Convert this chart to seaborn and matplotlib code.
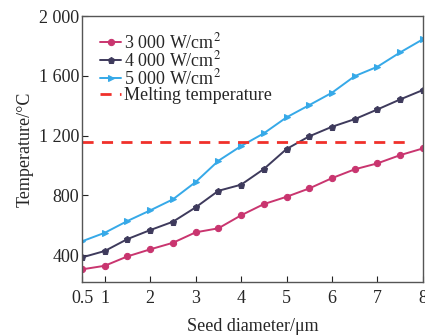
import matplotlib
matplotlib.use("Agg")
import matplotlib.pyplot as plt
import seaborn as sns
import pandas as pd

# seed diameter (um)
diameter = [0.5, 1, 1.5, 2, 2.5, 3, 3.5, 4, 4.5, 5, 5.5, 6, 6.5, 7, 7.5, 8]
t_3000 = [304, 328, 391, 438, 482, 552, 579, 666, 741, 790, 846, 915, 974, 1014, 1069, 1114]
t_4000 = [384, 427, 507, 567, 623, 719, 830, 871, 976, 1110, 1195, 1259, 1310, 1375, 1442, 1505]
t_5000 = [492, 549, 628, 699, 773, 889, 1031, 1130, 1215, 1322, 1404, 1487, 1598, 1661, 1757, 1845]
melting = 1160

labels = ["3 000 W/cm$^2$", "4 000 W/cm$^2$", "5 000 W/cm$^2$"]
colors = ["#C9356F", "#3E3A5C", "#36A9E8"]
markers = ["o", "p", ">"]

sns.set_style("ticks")
plt.rcParams["font.family"] = ["Liberation Serif", "DejaVu Serif"]
plt.rcParams["mathtext.fontset"] = "stix"

fig = plt.figure(figsize=(4.25, 3.36), dpi=100)
ax = fig.add_axes([0.193, 0.161, 0.802, 0.791])

for vals, lab, c, m in zip([t_3000, t_4000, t_5000], labels, colors, markers):
    sns.lineplot(x=diameter, y=vals, ax=ax, color=c, marker=m, markersize=4.5,
                 markeredgecolor=c, linewidth=1.4, label=lab)

ax.axhline(melting, color="#F0302A", linestyle=(0, (4, 3)), linewidth=2,
           label="Melting temperature", xmin=0.0, xmax=0.965)

ax.set_xlim(0.5, 8)
ax.set_ylim(220, 2000)
ax.set_xticks([0.5, 1, 2, 3, 4, 5, 6, 7, 8])
ax.set_xticklabels(["0.5", "1", "2", "3", "4", "5", "6", "7", "8"])
ax.set_yticks([400, 800, 1200, 1600, 2000])
ax.set_yticklabels(["400", "800", "1 200", "1 600", "2 000"])
ax.tick_params(direction="in", labelsize=13, length=4, color="#222222")
ax.tick_params(axis="x", pad=6)
ax.tick_params(axis="y", pad=2)
for s in ax.spines.values():
    s.set_color("#555555")
    s.set_linewidth(1)

ax.set_xlabel("Seed diameter/μm", fontsize=13, labelpad=8)
ax.set_ylabel("Temperature/°C", fontsize=13, labelpad=4)

ax.legend(loc="upper left", bbox_to_anchor=(0.02, 0.98), frameon=False,
          fontsize=13, handlelength=1.2, handletextpad=0.15, labelspacing=-0.1,
          borderaxespad=0.2)

fig.savefig("out.png", dpi=100)
